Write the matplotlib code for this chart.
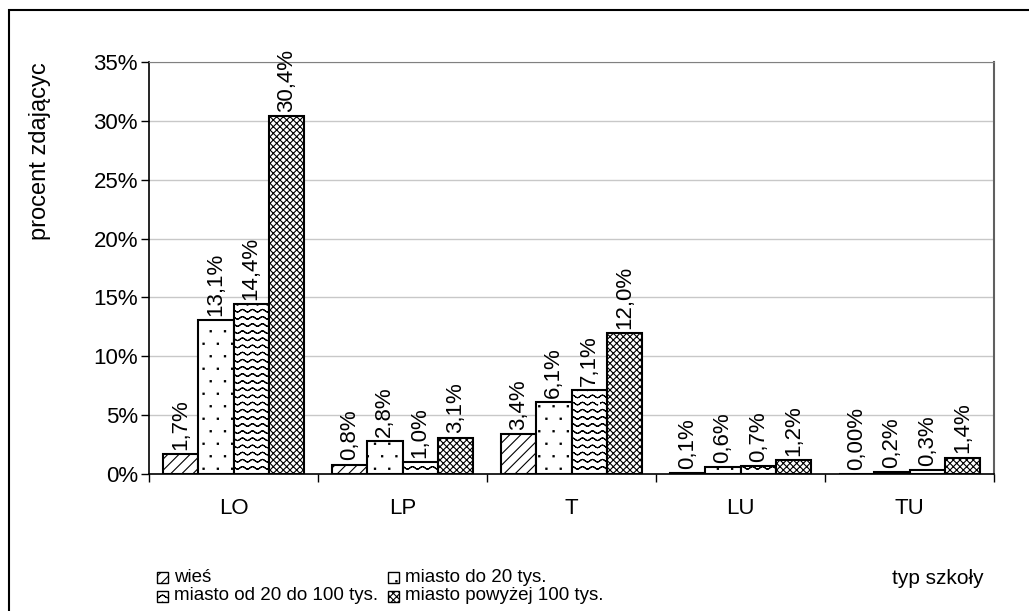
import matplotlib
matplotlib.use("Agg")
import matplotlib.pyplot as plt
import matplotlib.hatch as mhatch
from matplotlib.path import Path
import numpy as np
from matplotlib.patches import Rectangle

plt.rcParams['font.family'] = ['Liberation Sans', 'DejaVu Sans']
plt.rcParams['hatch.linewidth'] = 0.8


# ---- custom hatch patterns (waves for 'O', tiny dots for '*') ----
class WaveHatch(mhatch.HatchPatternBase):
    def __init__(self, hatch, density):
        self.rows = 14 if 'O' in hatch else 0
        self.pts = 81
        self.num_vertices = self.rows * self.pts * 2

    def set_vertices_and_codes(self, vertices, codes):
        xs = np.linspace(0.0, 1.0, self.pts)
        k = 0
        for r in range(self.rows):
            y0 = (r + 0.5) / self.rows
            ys = y0 + 0.013 * np.sin(2 * np.pi * 10 * xs)
            seg = np.column_stack([np.concatenate([xs, xs[::-1]]),
                                   np.concatenate([ys, ys[::-1]])])
            n = len(seg)
            vertices[k:k + n] = seg
            codes[k] = Path.MOVETO
            codes[k + 1:k + n] = Path.LINETO
            k += n


class TinyDots(mhatch.HatchPatternBase):
    def __init__(self, hatch, density):
        self.cols = 7
        self.rws = 8
        self.on = '*' in hatch
        self.num_vertices = (self.cols * self.rws * 5) if self.on else 0

    def set_vertices_and_codes(self, vertices, codes):
        s = 0.006
        k = 0
        for r in range(self.rws):
            y = (r + 0.5) / self.rws
            off = 0.5 if r % 2 else 0.0
            for c in range(self.cols):
                x = ((c + 0.25 + off) / self.cols) % 1.0
                sq = [(x - s, y - s), (x + s, y - s), (x + s, y + s),
                      (x - s, y + s), (x - s, y - s)]
                vertices[k:k + 5] = sq
                codes[k] = Path.MOVETO
                codes[k + 1:k + 4] = Path.LINETO
                codes[k + 4] = Path.CLOSEPOLY
                k += 5


mhatch._hatch_types = [mhatch.HorizontalHatch, mhatch.VerticalHatch,
                       mhatch.NorthEastHatch, mhatch.SouthEastHatch,
                       mhatch.SmallCircles, WaveHatch,
                       mhatch.SmallFilledCircles, TinyDots]

# ---- data ----
categories = ["LO", "LP", "T", "LU", "TU"]
series_names = ["wieś", "miasto do 20 tys.", "miasto od 20 do 100 tys.", "miasto powyżej 100 tys."]
wies = [1.7, 0.8, 3.4, 0.1, 0.0]
do20 = [13.1, 2.8, 6.1, 0.6, 0.2]
od20do100 = [14.4, 1.0, 7.1, 0.7, 0.3]
pow100 = [30.4, 3.1, 12.0, 1.2, 1.4]
labels_wies = ["1,7%", "0,8%", "3,4%", "0,1%", "0,00%"]
labels_do20 = ["13,1%", "2,8%", "6,1%", "0,6%", "0,2%"]
labels_od20 = ["14,4%", "1,0%", "7,1%", "0,7%", "0,3%"]
labels_pow100 = ["30,4%", "3,1%", "12,0%", "1,2%", "1,4%"]
yticks = [0, 5, 10, 15, 20, 25, 30, 35]

series = [wies, do20, od20do100, pow100]
series_labels = [labels_wies, labels_do20, labels_od20, labels_pow100]
hatches = ["///", "*", "O", "xxxxx"]

W, H = 1029, 611
fig = plt.figure(figsize=(W / 100, H / 100), dpi=100)
ax = fig.add_axes([149 / W, 1 - 474 / H, (994 - 149) / W, (474 - 62) / H])

FS = 16
x = np.arange(len(categories))
bw = 0.21
for i, (vals, labs, h) in enumerate(zip(series, series_labels, hatches)):
    pos = x + (i - 1.5) * bw
    ax.bar(pos, vals, width=bw, color="white", edgecolor="black",
           linewidth=1.5, hatch=h, zorder=3)
    for p, v, t in zip(pos, vals, labs):
        ax.text(p, v + 0.35, t, rotation=90, ha="center", va="bottom",
                fontsize=FS, zorder=4)

ax.set_xlim(-0.5, len(categories) - 0.5)
ax.set_ylim(0, 35)
ax.set_yticks(yticks)
ax.set_yticklabels([f"{t}%" for t in yticks], fontsize=FS)
ax.yaxis.grid(True, color="#c8c8c8", linewidth=1, zorder=0)
ax.set_axisbelow(True)
ax.tick_params(axis="y", direction="out", length=6, width=1, pad=2)

ax.set_xticks(x)
ax.set_xticklabels(categories, fontsize=FS)
ax.tick_params(axis="x", length=0, pad=17)
ax.set_xticks(np.arange(-0.5, len(categories)), minor=True)
ax.tick_params(axis="x", which="minor", direction="out", length=6, width=1)

for s in ["left", "bottom"]:
    ax.spines[s].set_color("black")
    ax.spines[s].set_linewidth(1.2)
ax.spines["top"].set_color("#808080")
ax.spines["right"].set_color("#606060")
ax.spines["right"].set_linewidth(1.5)

fig.text(40 / W, 1 - 240 / H, "procent zdającyc", rotation=90, ha="center",
         va="bottom", fontsize=17)
fig.text(938 / W, 1 - 578 / H, "typ szkoły", ha="center", va="center",
         fontsize=15)

# ---- legend (row-wise, like the original) ----
leg_pos = [(157, 577), (388, 577), (157, 596), (388, 596)]
for (lx, ly), name, h in zip(leg_pos, series_names, hatches):
    sz = 11
    fig.patches.append(Rectangle((lx / W, 1 - (ly + sz / 2) / H), sz / W, sz / H,
                                 transform=fig.transFigure, facecolor="white",
                                 edgecolor="black", linewidth=1.0, hatch=h))
    fig.text((lx + sz + 6) / W, 1 - ly / H, name, ha="left", va="center",
             fontsize=13.5)

fig.patches.append(Rectangle((9 / W, -0.05), 1.1, 1 - 10 / H + 0.05,
                             transform=fig.transFigure, fill=False,
                             edgecolor="black", linewidth=1.5))

fig.savefig("out.png", dpi=100)
